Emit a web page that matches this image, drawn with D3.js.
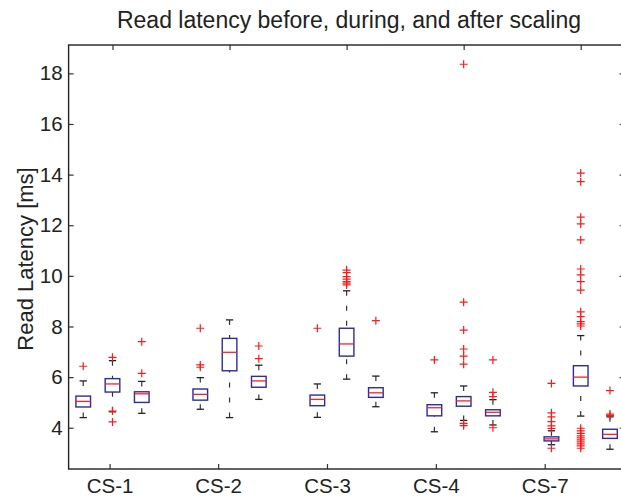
<!DOCTYPE html>
<html>
<head>
<meta charset="utf-8">
<script src="https://cdn.jsdelivr.net/npm/d3@7"></script>
<style>
  html, body { margin: 0; padding: 0; background: #fff; }
  svg { display: block; }
  text { font-family: "Liberation Sans", Arial, Helvetica, sans-serif; fill: #222; }
</style>
</head>
<body>
<svg id="chart" width="621" height="496"></svg>
<script>
// ---- data ----
const groups = ["CS-1", "CS-2", "CS-3", "CS-4", "CS-7"];
const phases = ["before", "during", "after"];
const yTicks = [4, 6, 8, 10, 12, 14, 16, 18];
const xTickPositions = [1.9, 5.61, 9.33, 13.05, 16.77];
const topTickPositions = [2, 6, 10, 14, 18];

// one row per group, one entry per phase (before, during, after)
const lowerWhisker = [
  [4.40, 4.63, 4.57],
  [4.73, 4.40, 5.12],
  [4.41, 5.92, 4.83],
  [3.84, 4.29, 4.11],
  [3.33, 4.46, 3.15]
];
const q1 = [
  [4.82, 5.41, 5.00],
  [5.09, 6.25, 5.60],
  [4.87, 6.83, 5.20],
  [4.47, 4.85, 4.47],
  [3.48, 5.65, 3.58]
];
const median = [
  [5.04, 5.73, 5.34],
  [5.32, 6.98, 5.85],
  [5.12, 7.31, 5.38],
  [4.79, 5.06, 4.61],
  [3.56, 6.00, 3.74]
];
const q3 = [
  [5.25, 5.94, 5.42],
  [5.53, 7.53, 6.03],
  [5.29, 7.93, 5.58],
  [4.91, 5.23, 4.71],
  [3.64, 6.45, 3.94]
];
const upperWhisker = [
  [5.85, 6.65, 5.83],
  [5.98, 8.26, 6.47],
  [5.73, 9.41, 6.04],
  [5.38, 5.65, 5.11],
  [3.88, 7.64, 4.43]
];
const outliers = [
  [[6.43], [6.78, 4.66, 4.23], [7.40, 6.15]],
  [[7.93, 6.48, 6.39], [], [7.23, 6.73]],
  [[7.93], [10.23, 10.13, 9.97, 9.87, 9.77, 9.71, 9.64], [8.23]],
  [[6.68], [18.36, 8.96, 7.86, 7.11, 6.83, 6.51, 4.17, 4.08], [6.68, 5.40, 5.23, 4.00]],
  [[5.75, 4.59, 4.43, 4.24, 4.07, 3.97, 3.19],
   [14.06, 13.72, 12.32, 12.05, 11.42, 10.27, 10.04, 9.77, 9.44, 8.58, 8.39, 8.19, 8.10, 8.02,
    3.98, 3.88, 3.78, 3.68, 3.60, 3.52, 3.44, 3.36, 3.28, 3.19],
   [5.47, 4.54, 4.48]]
];

// ---- layout ----
const svg = d3.select("#chart");
const pLeft = 68.6, pRight = 624.6, pTop = 45, pBottom = 469;
const x = d3.scaleLinear().domain([0.5, 19.5]).range([pLeft, pRight]);
const y = d3.scaleLinear().domain([2.37, 19.12]).range([pBottom, pTop]);
const boxHalf = 0.25, capHalf = 0.125;

const boxes = [];
groups.forEach((g, gi) => {
  phases.forEach((p, pi) => {
    boxes.push({
      pos: gi * 4 + pi + 1,
      lw: lowerWhisker[gi][pi], q1: q1[gi][pi], med: median[gi][pi],
      q3: q3[gi][pi], uw: upperWhisker[gi][pi], out: outliers[gi][pi]
    });
  });
});

const plot = svg.append("g");

// whiskers (dashed)
const wk = plot.append("g").attr("stroke", "#333").attr("stroke-width", 1.2)
  .attr("stroke-dasharray", "5,10");
wk.selectAll("line.up").data(boxes).join("line").attr("class", "up")
  .attr("x1", d => x(d.pos)).attr("x2", d => x(d.pos))
  .attr("y1", d => y(d.uw)).attr("y2", d => y(d.q3));
wk.selectAll("line.lo").data(boxes).join("line").attr("class", "lo")
  .attr("x1", d => x(d.pos)).attr("x2", d => x(d.pos))
  .attr("y1", d => y(d.lw)).attr("y2", d => y(d.q1));

// caps
const caps = plot.append("g").attr("stroke", "#222").attr("stroke-width", 1.3);
caps.selectAll("line.cu").data(boxes).join("line").attr("class", "cu")
  .attr("x1", d => x(d.pos - capHalf)).attr("x2", d => x(d.pos + capHalf))
  .attr("y1", d => y(d.uw)).attr("y2", d => y(d.uw));
caps.selectAll("line.cl").data(boxes).join("line").attr("class", "cl")
  .attr("x1", d => x(d.pos - capHalf)).attr("x2", d => x(d.pos + capHalf))
  .attr("y1", d => y(d.lw)).attr("y2", d => y(d.lw));

// boxes
plot.append("g").selectAll("rect").data(boxes).join("rect")
  .attr("x", d => x(d.pos - boxHalf))
  .attr("width", d => x(d.pos + boxHalf) - x(d.pos - boxHalf))
  .attr("y", d => y(d.q3))
  .attr("height", d => y(d.q1) - y(d.q3))
  .attr("fill", "none").attr("stroke", "#2b2ba6").attr("stroke-width", 1.4);

// medians
plot.append("g").selectAll("line").data(boxes).join("line")
  .attr("x1", d => x(d.pos - boxHalf)).attr("x2", d => x(d.pos + boxHalf))
  .attr("y1", d => y(d.med)).attr("y2", d => y(d.med))
  .attr("stroke", "#ff2020").attr("stroke-width", 1.3);

// outliers as '+'
const outPts = boxes.flatMap(b => b.out.map(v => ({ pos: b.pos, v })));
const og = plot.append("g").attr("stroke", "#ff1a1a").attr("stroke-width", 1.2);
const s = 4;
og.selectAll("path").data(outPts).join("path")
  .attr("d", d => {
    const cx = x(d.pos), cy = y(d.v);
    return `M${cx - s},${cy}H${cx + s}M${cx},${cy - s}V${cy + s}`;
  });

// ---- axes ----
const fs = 20.5;
const yAxis = svg.append("g").attr("transform", `translate(${pLeft},0)`)
  .call(d3.axisLeft(y).tickValues(yTicks).tickFormat(d3.format("d"))
    .tickSizeInner(-5).tickSizeOuter(0).tickPadding(6));
const xAxis = svg.append("g").attr("transform", `translate(0,${pBottom})`)
  .call(d3.axisBottom(x).tickValues(xTickPositions).tickFormat((d, i) => groups[i])
    .tickSizeInner(-5).tickSizeOuter(0).tickPadding(9));
const rAxis = svg.append("g").attr("transform", `translate(${pRight},0)`)
  .call(d3.axisRight(y).tickValues(yTicks).tickFormat("")
    .tickSizeInner(-5).tickSizeOuter(0));
const tAxis = svg.append("g").attr("transform", `translate(0,${pTop})`)
  .call(d3.axisTop(x).tickValues(topTickPositions).tickFormat("")
    .tickSizeInner(-5).tickSizeOuter(0));

[yAxis, xAxis, rAxis, tAxis].forEach(a => {
  a.select(".domain").remove();
  a.selectAll(".tick line").attr("stroke", "#333").attr("stroke-width", 1.2);
  a.selectAll(".tick text").attr("font-size", fs).attr("fill", "#222")
    .style("font-family", '"Liberation Sans", Arial, sans-serif');
});

// frame
svg.append("rect").attr("x", pLeft).attr("y", pTop)
  .attr("width", pRight - pLeft).attr("height", pBottom - pTop)
  .attr("fill", "none").attr("stroke", "#222").attr("stroke-width", 1.4);

// title and y label
svg.append("text").attr("x", 349).attr("y", 28)
  .attr("text-anchor", "middle").attr("font-size", 23)
  .text("Read latency before, during, and after scaling");
svg.append("text")
  .attr("transform", `translate(33,${(pTop + pBottom) / 2 + 2}) rotate(-90)`)
  .attr("text-anchor", "middle").attr("font-size", 22)
  .text("Read Latency [ms]");
</script>
</body>
</html>
